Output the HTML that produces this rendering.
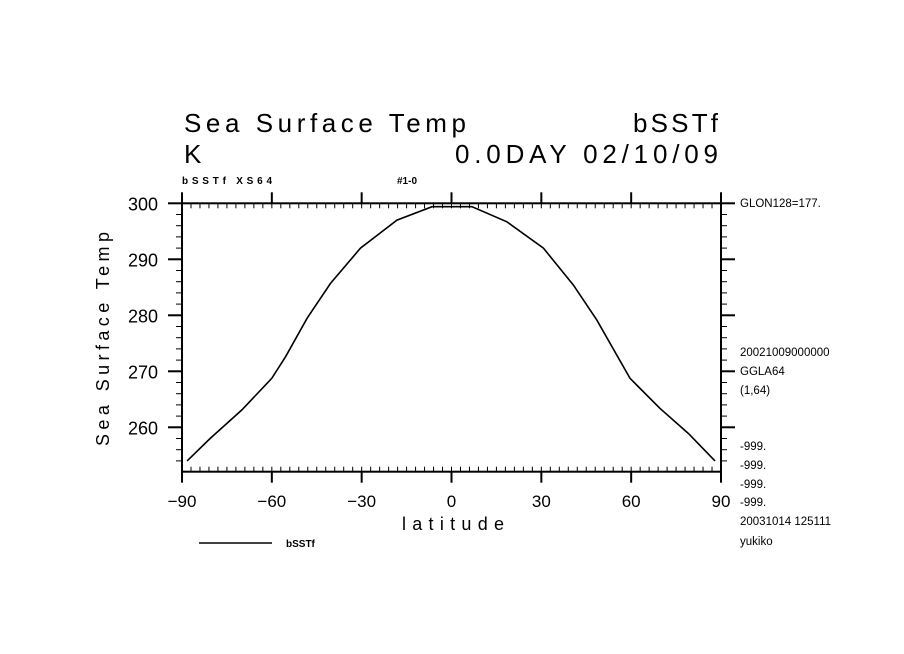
<!DOCTYPE html>
<html><head><meta charset="utf-8"><style>
html,body{margin:0;padding:0;background:#fff;}
svg{display:block;}
text{font-family:"Liberation Sans",sans-serif;fill:#000;}
</style></head><body>
<svg id="chart" width="904" height="654" viewBox="0 0 904 654">
<text x="184" y="132" font-size="26" textLength="282" lengthAdjust="spacing">Sea Surface Temp</text>
<text x="633" y="132" font-size="26" textLength="85" lengthAdjust="spacing">bSSTf</text>
<text x="184" y="163" font-size="26">K</text>
<text x="455" y="163" font-size="26" textLength="263" lengthAdjust="spacing">0.0DAY 02/10/09</text>
<text x="182" y="184" font-size="10" font-weight="bold" textLength="90" lengthAdjust="spacing">bSSTf XS64</text>
<text x="397" y="184" font-size="10" font-weight="bold">#1-0</text>
<g id="axes"></g>
<g id="marks"></g>
<text x="453" y="530" font-size="18" text-anchor="middle" textLength="102" lengthAdjust="spacing">latitude</text>
<text transform="translate(109,339) rotate(-90)" font-size="18" text-anchor="middle" textLength="214" lengthAdjust="spacing">Sea Surface Temp</text>
<line x1="199" y1="543" x2="272" y2="543" stroke="#000" stroke-width="1.5"/>
<text x="286" y="547" font-size="10" font-weight="bold">bSSTf</text>
<g font-size="11.5">
<text x="740" y="207">GLON128=177.</text>
<text x="740" y="356">20021009000000</text>
<text x="740" y="375">GGLA64</text>
<text x="740" y="394">(1,64)</text>
<text x="740" y="450">-999.</text>
<text x="740" y="469">-999.</text>
<text x="740" y="488">-999.</text>
<text x="740" y="506">-999.</text>
<text x="740" y="525">20031014 125111</text>
<text x="740" y="545">yukiko</text>
</g>
</svg>
<script>
const lats = [-88.3,-80.6,-70.0,-60.0,-55.4,-48.2,-40.4,-30.4,-18.2,-6.5,6.8,18.5,30.7,40.7,48.5,59.6,69.6,79.1,88.0];
const sst  = [254.0,258.0,263.1,268.75,272.6,279.5,285.7,292.0,297.0,299.4,299.4,296.7,292.0,285.4,279.2,268.75,263.4,258.9,254.0];
const xTicks = [-90,-60,-30,0,30,60,90];
const yTicks = [300,290,280,270,260];
const X0=182,X1=721,Y0=203.3,Y1=471.7;
const xMin=-90,xMax=90,yTop=300,yBot=252.07;
function sx(v){return X0+(v-xMin)/(xMax-xMin)*(X1-X0);}
function sy(v){return Y0+(yTop-v)/(yTop-yBot)*(Y1-Y0);}
const NS='http://www.w3.org/2000/svg';
const ax=document.getElementById('axes');
function ln(x1,y1,x2,y2,w,name){const l=document.createElementNS(NS,'line');l.setAttribute('x1',x1);l.setAttribute('y1',y1);l.setAttribute('x2',x2);l.setAttribute('y2',y2);l.setAttribute('stroke','#000');l.setAttribute('stroke-width',w);


ax.appendChild(l);return l;}
function tx(x,y,s,size,anchor,name){const t=document.createElementNS(NS,'text');t.setAttribute('x',x);t.setAttribute('y',y);t.setAttribute('font-size',size);t.setAttribute('text-anchor',anchor);t.textContent=s;


ax.appendChild(t);}
const r=document.createElementNS(NS,'rect');
r.setAttribute('x',X0);r.setAttribute('y',Y0);r.setAttribute('width',X1-X0);r.setAttribute('height',Y1-Y0);
r.setAttribute('fill','none');r.setAttribute('stroke','#000');r.setAttribute('stroke-width','2');


ax.appendChild(r);
for(let v=-90;v<=90;v+=3){const x=sx(v);ln(x,Y0,x,Y0+5,1,'x-minor-tick-top');ln(x,Y1,x,Y1-5,1,'x-minor-tick-bottom');}
xTicks.forEach(v=>{const x=sx(v);ln(x,Y0-11,x,Y0,2,'x-major-tick-top');ln(x,Y1,x,Y1+11,2,'x-major-tick-bottom');tx(x,507,String(v).replace('-','\u2212'),17,'middle','x-tick-label');});
for(let v=300;v>=yBot;v-=2){const y=sy(v);ln(X0-6,y,X0,y,1,'y-minor-tick-left');ln(X1,y,X1+6,y,1,'y-minor-tick-right');}
yTicks.forEach(v=>{const y=sy(v);ln(X0-14,y,X0,y,2,'y-major-tick-left');ln(X1,y,X1+14,y,2,'y-major-tick-right');tx(158,y+7,String(v),18,'end','y-tick-label');});
const p=document.createElementNS(NS,'polyline');
p.setAttribute('points',lats.map((l,i)=>sx(l).toFixed(1)+','+sy(sst[i]).toFixed(1)).join(' '));
p.setAttribute('fill','none');p.setAttribute('stroke','#000');p.setAttribute('stroke-width','1.6');


document.getElementById('marks').appendChild(p);
</script>
</body></html>
